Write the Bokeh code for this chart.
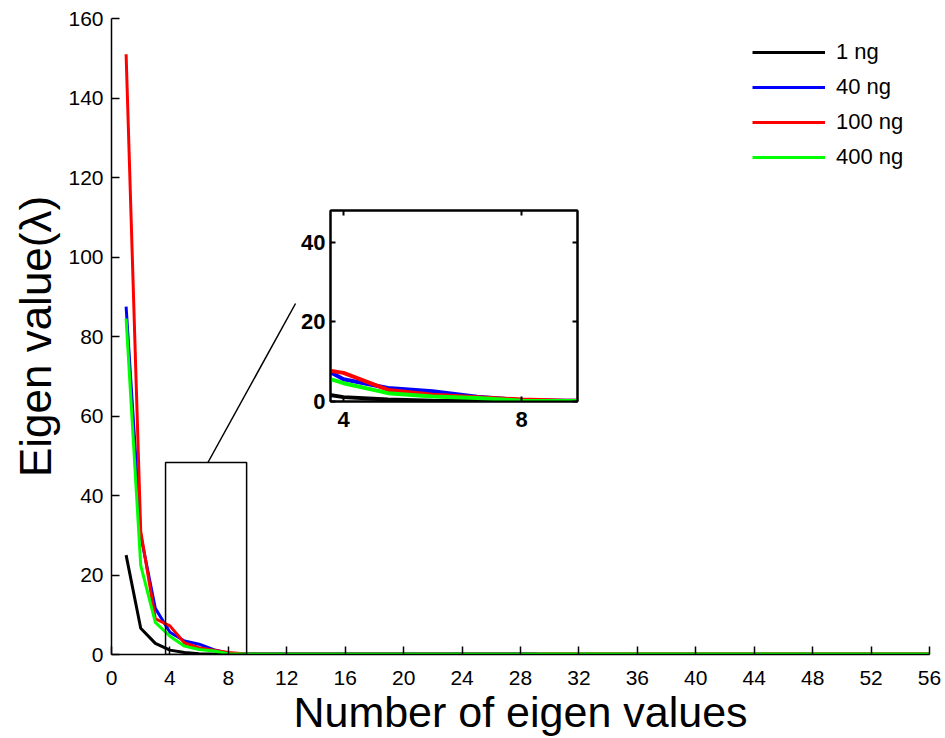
from bokeh.plotting import figure
from bokeh.models import Range1d, FixedTicker, Legend, LegendItem, LinearAxis, ColumnDataSource
from bokeh.layouts import column
from bokeh.embed import file_html
from bokeh.resources import INLINE

# ---------------- data ----------------
n_eigen = list(range(1, 57))

ng1 = [25.0, 6.6, 2.8, 1.1, 0.5, 0.2, 0.1, 0.1, 0.1, 0.1,
       0.1, 0.1, 0.1, 0.1, 0.1, 0.1, 0.1, 0.1, 0.1, 0.1,
       0.1, 0.1, 0.1, 0.1, 0.1, 0.1, 0.1, 0.1, 0.1, 0.1,
       0.1, 0.1, 0.1, 0.1, 0.1, 0.1, 0.1, 0.1, 0.1, 0.1,
       0.1, 0.1, 0.1, 0.1, 0.1, 0.1, 0.1, 0.1, 0.1, 0.1,
       0.1, 0.1, 0.1, 0.1, 0.1, 0.1]
ng40 = [87.5, 30.0, 11.6, 5.6, 3.4, 2.6, 1.2, 0.3, 0.2, 0.2,
        0.2, 0.2, 0.2, 0.2, 0.2, 0.2, 0.2, 0.2, 0.2, 0.2,
        0.2, 0.2, 0.2, 0.2, 0.2, 0.2, 0.2, 0.2, 0.2, -0.5,
        -0.5, -0.5, -0.5, -0.5, -0.5, -0.5, -0.5, -0.5, -0.5, -0.5,
        -0.5, -0.5, -0.5, -0.5, -0.5, -0.5, -0.5, -0.5, -0.5, -0.5,
        -0.5, -0.5, -0.5, -0.5, -0.5, -0.5]
ng100 = [151.0, 31.0, 9.0, 7.2, 2.9, 1.7, 1.1, 0.5, 0.2, 0.1,
         0.1, 0.1, 0.1, 0.1, 0.1, 0.1, 0.1, 0.1, 0.1, 0.1,
         0.1, 0.1, 0.1, 0.1, 0.1, 0.1, 0.1, 0.1, 0.1, 0.1,
         0.1, 0.1, 0.1, 0.1, 0.1, 0.1, 0.1, 0.1, 0.1, 0.1,
         0.1, 0.1, 0.1, 0.1, 0.1, 0.1, 0.1, 0.1, 0.1, 0.1,
         0.1, 0.1, 0.1, 0.1, 0.1, 0.1]
ng400 = [84.5, 22.4, 8.1, 4.6, 2.1, 1.25, 0.9, 0.2, 0.1, 0.1,
         0.1, 0.1, 0.1, 0.1, 0.1, 0.1, 0.1, 0.1, 0.1, 0.1,
         0.1, 0.1, 0.1, 0.1, 0.1, 0.1, 0.1, 0.1, 0.1, 0.1,
         0.1, 0.1, 0.1, 0.1, 0.1, 0.1, 0.1, 0.1, 0.1, 0.1,
         0.1, 0.1, 0.1, 0.1, 0.1, 0.1, 0.1, 0.1, 0.1, 0.1,
         0.1, 0.1, 0.1, 0.1, 0.1, 0.1]

series_labels = ["1 ng", "40 ng", "100 ng", "400 ng"]
series_colors = ["#000000", "#0000ff", "#ff0000", "#00ff00"]

x_ticks = [0, 4, 8, 12, 16, 20, 24, 28, 32, 36, 40, 44, 48, 52, 56]
y_ticks = [0, 20, 40, 60, 80, 100, 120, 140, 160]

# zoom window shown in the inset, and connector line
zoom_x = [3.7, 9.25]
zoom_y = [0.0, 48.3]
connector_x = [6.6, 12.6]
connector_y = [48.3, 88.3]

inset_x_range = [3.708, 9.258]
inset_y_range = [0, 48]
inset_x_ticks = [4, 8]
inset_y_ticks = [0, 20, 40]

FONT = "Liberation Sans"

src = ColumnDataSource(dict(x=n_eigen, a=ng1, b=ng40, c=ng100, d=ng400))
cols = ["a", "b", "c", "d"]

# ---------------- main plot ----------------
p = figure(width=945, height=738, output_backend="svg", toolbar_location=None,
           x_range=Range1d(0, 56), y_range=Range1d(0, 160),
           min_border_left=111, min_border_right=16, min_border_top=18, min_border_bottom=84)
p.outline_line_color = None
p.grid.visible = False
p.background_fill_color = "white"
p.border_fill_color = "white"

renderers = []
for c, col in zip(cols, series_colors):
    r = p.line("x", c, source=src, line_color=col, line_width=3)
    renderers.append(r)

# zoom window rectangle
p.quad(left=[zoom_x[0]], right=[zoom_x[1]], bottom=[zoom_y[0]], top=[zoom_y[1]],
       fill_color=None, line_color="black", line_width=1.5)
p.line(connector_x, connector_y, line_color="black", line_width=1.5)

for ax in (p.xaxis[0], p.yaxis[0]):
    ax.axis_line_color = "black"
    ax.axis_line_width = 1.5
    ax.major_tick_line_color = "black"
    ax.major_tick_line_width = 1.5
    ax.major_tick_in = 8
    ax.major_tick_out = 0
    ax.minor_tick_line_color = None
    ax.major_label_text_font = FONT
    ax.major_label_text_font_size = "21px"
    ax.major_label_text_color = "black"
    ax.axis_label_text_font = FONT
    ax.axis_label_text_font_style = "normal"
    ax.axis_label_text_color = "black"

p.xaxis[0].ticker = FixedTicker(ticks=x_ticks)
p.yaxis[0].ticker = FixedTicker(ticks=y_ticks)
p.xaxis[0].axis_label = "Number of eigen values"
p.yaxis[0].axis_label = "Eigen value(λ)"
p.xaxis[0].axis_label_text_font_size = "43px"
p.yaxis[0].axis_label_text_font_size = "44px"
p.xaxis[0].major_label_standoff = 16
p.xaxis[0].axis_label_standoff = 0
p.yaxis[0].major_label_standoff = 8
p.yaxis[0].axis_label_standoff = 5

legend = Legend(items=[LegendItem(label=l, renderers=[r]) for l, r in zip(series_labels, renderers)],
                location=(641, 484), orientation="vertical",
                background_fill_alpha=0, border_line_alpha=0,
                padding=0, margin=0, spacing=9,
                glyph_width=73, glyph_height=24, label_height=24, label_standoff=11,
                label_text_font=FONT, label_text_font_size="22px", label_text_color="black")
p.add_layout(legend)

# ---------------- inset ----------------
inset = figure(width=374, height=251, output_backend="svg", toolbar_location=None,
               x_range=Range1d(*inset_x_range), y_range=Range1d(*inset_y_range),
               min_border_left=111, min_border_right=16, min_border_top=20, min_border_bottom=40)
inset.grid.visible = False
inset.outline_line_color = "black"
inset.outline_line_width = 2
inset.background_fill_color = "white"
inset.border_fill_color = None
inset.border_fill_alpha = 0

for c, col in zip(cols, series_colors):
    inset.line("x", c, source=src, line_color=col, line_width=4)

inset.add_layout(LinearAxis(), "above")
inset.add_layout(LinearAxis(), "right")
for ax in inset.axis:
    ax.axis_line_color = "black"
    ax.axis_line_width = 2
    ax.major_tick_line_color = "black"
    ax.major_tick_line_width = 2
    ax.major_tick_in = 5
    ax.major_tick_out = 0
    ax.minor_tick_line_color = None
    ax.major_label_text_font = FONT
    ax.major_label_text_font_size = "22px"
    ax.major_label_text_font_style = "bold"
    ax.major_label_text_color = "black"
for ax in inset.xaxis:
    ax.ticker = FixedTicker(ticks=inset_x_ticks)
for ax in inset.yaxis:
    ax.ticker = FixedTicker(ticks=inset_y_ticks)
inset.below[0].major_label_standoff = 10
inset.left[0].major_label_standoff = 5
for ax in (inset.above[0], inset.right[0]):
    ax.major_label_text_font_size = "1px"
    ax.major_label_text_color = None
    ax.major_label_standoff = 0

inset.styles = {"position": "absolute", "left": "219px", "top": "190px"}

layout = column(p, inset)
open("out.html", "w").write(file_html(layout, INLINE))
